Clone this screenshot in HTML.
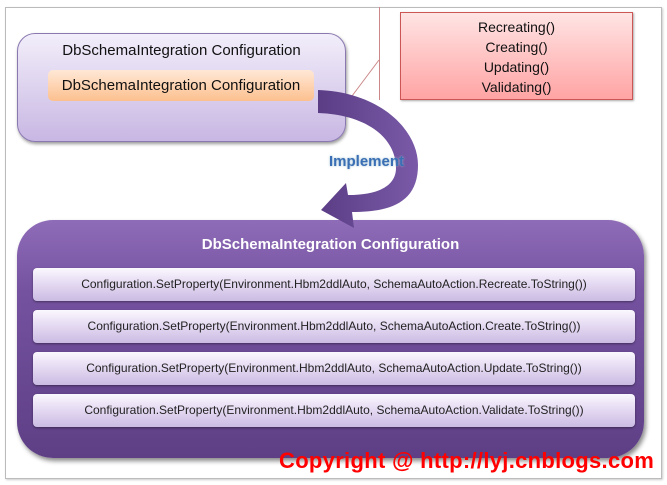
<!DOCTYPE html>
<html><head><meta charset="utf-8"><style>
body{margin:0;width:667px;height:485px;background:#fff;overflow:hidden;font-family:"Liberation Sans",sans-serif;}
.a{position:absolute;}
.row{position:absolute;left:33px;width:602px;height:33px;border-radius:4px;background:linear-gradient(#fbf8fe,#e8def4 40%,#cbbbe3);box-shadow:0 1px 2px rgba(0,0,0,.4);font-size:12px;color:#222;text-align:center;line-height:33px;white-space:nowrap;}
</style></head><body>
<div class="a" style="left:5px;top:7px;width:655px;height:470px;border:1px solid #bbb;box-shadow:1px 1px 2px #ccc;"></div>
<div class="a" style="left:379px;top:7px;width:1px;height:93px;background:#c88;"></div>
<svg class="a" style="left:0;top:0" width="667" height="485"><line x1="340" y1="112" x2="379" y2="60" stroke="#c88" stroke-width="1"/></svg>
<div class="a" style="left:400px;top:12px;width:233px;height:88px;border:1px solid #c55;background:linear-gradient(#ffe4e4,#ffa4a4);box-shadow:1px 1px 2px #aaa;text-align:center;font-size:14px;line-height:20px;padding-top:4px;box-sizing:border-box;color:#111;">Recreating()<br>Creating()<br>Updating()<br>Validating()</div>
<div class="a" style="left:17px;top:33px;width:329px;height:109px;border:1px solid #8a78b0;border-radius:18px;background:linear-gradient(#f2eefa,#c8b7e3);box-shadow:1px 2px 3px #999;box-sizing:border-box;"></div>
<div class="a" style="left:17px;top:42px;width:329px;text-align:center;font-size:15px;color:#111;">DbSchemaIntegration Configuration</div>
<div class="a" style="left:48px;top:70px;width:266px;height:31px;border-radius:5px;background:linear-gradient(#ffe8d6,#fcc08f);text-align:center;line-height:31px;font-size:15px;color:#111;">DbSchemaIntegration Configuration</div>
<div class="a" style="left:17px;top:220px;width:627px;height:238px;border-radius:36px;background:linear-gradient(#8f6cb8,#7552a0 30%,#5e3f85);box-shadow:2px 3px 5px #888;"></div>
<svg class="a" style="left:0;top:0" width="667" height="485">
<defs><linearGradient id="g" x1="0" x2="1"><stop offset="0" stop-color="#5a3d85"/><stop offset="1" stop-color="#7a5aa8"/></linearGradient></defs>
<path d="M318,90 C380,92 418,130 418,165 C418,203 390,212 352,212 L354,228 L321,210 L346,183 L348,195 C380,195 396,185 396,168 C396,140 370,115 318,113 Z" fill="url(#g)"/>
</svg>
<div class="a" style="left:329px;top:153px;font-size:15px;font-weight:bold;color:#3a6fb5;text-shadow:0 0 2px #9bc;">Implement</div>
<div class="a" style="left:17px;top:236px;width:627px;text-align:center;font-size:15px;font-weight:bold;color:#fff;">DbSchemaIntegration Configuration</div>
<div class="row" style="top:268px">Configuration.SetProperty(Environment.Hbm2ddlAuto, SchemaAutoAction.Recreate.ToString())</div>
<div class="row" style="top:310px">Configuration.SetProperty(Environment.Hbm2ddlAuto, SchemaAutoAction.Create.ToString())</div>
<div class="row" style="top:352px">Configuration.SetProperty(Environment.Hbm2ddlAuto, SchemaAutoAction.Update.ToString())</div>
<div class="row" style="top:394px">Configuration.SetProperty(Environment.Hbm2ddlAuto, SchemaAutoAction.Validate.ToString())</div>
<div class="a" style="left:279px;top:448px;font-size:22px;font-weight:bold;color:#f00;white-space:nowrap;letter-spacing:0.3px;">Copyright @ http://lyj.cnblogs.com</div>
</body></html>
